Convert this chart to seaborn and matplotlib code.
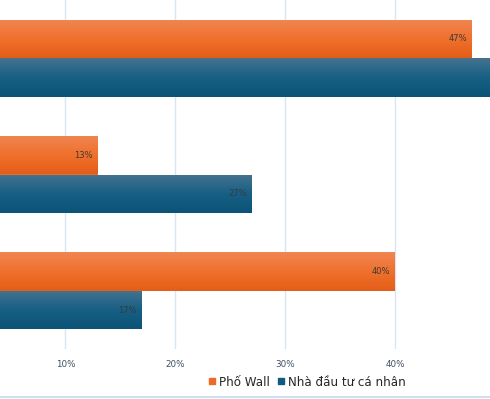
import numpy as np
import pandas as pd
import matplotlib
matplotlib.use("Agg")
import matplotlib.pyplot as plt
import seaborn as sns
from matplotlib.colors import LinearSegmentedColormap
from matplotlib.lines import Line2D

categories = ["A", "B", "C"]
series = ["Phố Wall", "Nhà đầu tư cá nhân"]
wall_values = [47, 13, 40]
retail_values = [53, 27, 17]
tick_values = [10, 20, 30, 40]
tick_labels = ["10%", "20%", "30%", "40%"]

df = pd.DataFrame({
    "cat": categories * 2,
    "series": [series[0]] * 3 + [series[1]] * 3,
    "value": wall_values + retail_values,
})

sns.set_theme(style="white")
plt.rcParams['font.family'] = ['DejaVu Sans']

fig = plt.figure(figsize=(4.9, 3.99), dpi=100)
ax = fig.add_axes([0.0, 1 - 349 / 399, 1.0, 349 / 399])

palette = {series[0]: "#ee6a28", series[1]: "#115b80"}
sns.barplot(data=df, y="cat", x="value", hue="series", orient="h",
            palette=palette, width=0.66, ax=ax, legend=False,
            saturation=1, edgecolor="none")

XMIN, XMAX = 4.05, 48.6
ax.set_xlim(XMIN, XMAX)
ax.set_ylim(2.5, -0.5)

grads = {
    series[0]: LinearSegmentedColormap.from_list("o", ["#ef8652", "#f0702d", "#e35e18"]),
    series[1]: LinearSegmentedColormap.from_list("b", ["#45738f", "#175f84", "#0b5477"]),
}
n = len(categories)
for i, p in enumerate(ax.patches[: 2 * n]):
    s = series[0] if i < n else series[1]
    x0, y0 = p.get_x(), p.get_y()
    w, h = p.get_width(), p.get_height()
    grad = np.linspace(0, 1, 64).reshape(-1, 1)
    im = ax.imshow(grad, cmap=grads[s], aspect="auto",
                   extent=[x0, x0 + w, y0 + h, y0], zorder=p.get_zorder() + 0.1,
                   interpolation="bilinear")
    im.set_clip_path(p)
    if x0 + w <= XMAX:
        ax.text(x0 + w - 0.5, y0 + h / 2, f"{int(round(w))}%", ha="right",
                va="center", fontsize=6, color="#3a3a3a", zorder=5)

ax.set_xlim(XMIN, XMAX)
ax.set_ylim(2.5, -0.5)
ax.set_xticks(tick_values)
ax.set_xticklabels(tick_labels, fontsize=6.3, color="#3d4f63")
ax.set_yticks([])
ax.set_xlabel("")
ax.set_ylabel("")
ax.tick_params(axis="x", length=0, pad=8)
ax.grid(axis="x", color="#d8e6f4", linewidth=1)
ax.set_axisbelow(True)
for sp in ax.spines.values():
    sp.set_visible(False)

handles = [Line2D([], [], marker="s", linestyle="none", markersize=4,
                  color=palette[s]) for s in series]
fig.legend(handles, series, loc="center", bbox_to_anchor=(306 / 490, 1 - 382 / 399),
           ncol=2, frameon=False, fontsize=8.6, handletextpad=0.1,
           columnspacing=0.4, handlelength=1.0)

fig.add_artist(Line2D([0, 1], [1 - 396.5 / 399] * 2, color="#cfe0f0", linewidth=1.5,
                      transform=fig.transFigure))

fig.savefig("out.png", dpi=100)
